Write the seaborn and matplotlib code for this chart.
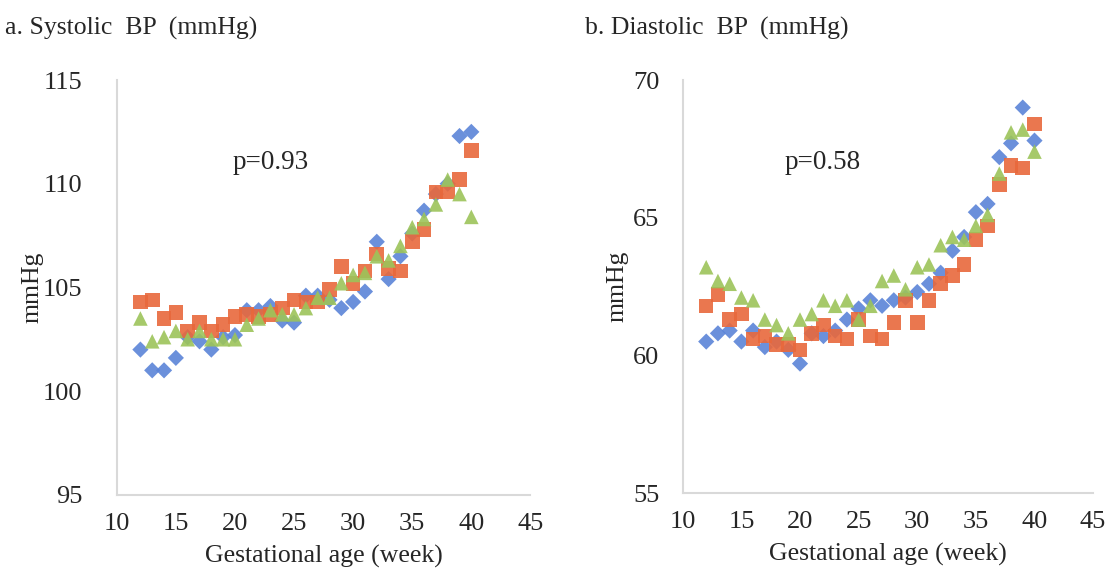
import numpy as np
import pandas as pd
import matplotlib
matplotlib.use("Agg")
import matplotlib.pyplot as plt
import seaborn as sns

sns.set_style("white")
plt.rcParams['font.family'] = ['Liberation Serif', 'DejaVu Serif']

weeks = list(range(12, 41))
groups = ["Group 1", "Group 2", "Group 3"]

# systolic BP per gestational week
sbp_g1 = [102.0, 101.0, 101.0, 101.6, 102.6, 102.4, 102.0, 102.6, 102.7, 103.9,
          103.9, 104.1, 103.4, 103.3, 104.6, 104.6, 104.4, 104.0, 104.3, 104.8,
          107.2, 105.4, 106.5, 107.6, 108.7, 109.5, 110.0, 112.3, 112.5]
sbp_g2 = [104.3, 104.4, 103.5, 103.8, 102.9, 103.3, 102.9, 103.2, 103.6, 103.7,
          103.6, 103.7, 104.0, 104.4, 104.3, 104.3, 104.9, 106.0, 105.2, 105.8,
          106.6, 105.9, 105.8, 107.2, 107.8, 109.6, 109.6, 110.2, 111.6]
sbp_g3 = [103.5, 102.4, 102.6, 102.9, 102.5, 102.9, 102.5, 102.5, 102.5, 103.2,
          103.5, 103.9, 103.7, 103.7, 104.0, 104.5, 104.5, 105.2, 105.6, 105.7,
          106.5, 106.3, 107.0, 107.9, 108.3, 109.0, 110.2, 109.5, 108.4]

# diastolic BP
dbp_g1 = [60.5, 60.8, 60.9, 60.5, 60.9, 60.3, 60.5, 60.2, 59.7, 60.8,
          60.7, 60.9, 61.3, 61.7, 62.0, 61.8, 62.0, 62.1, 62.3, 62.6,
          63.0, 63.8, 64.3, 65.2, 65.5, 67.2, 67.7, 69.0, 67.8]
dbp_g2 = [61.8, 62.2, 61.3, 61.5, 60.6, 60.7, 60.4, 60.4, 60.2, 60.8,
          61.1, 60.7, 60.6, 61.3, 60.7, 60.6, 61.2, 62.0, 61.2, 62.0,
          62.6, 62.9, 63.3, 64.2, 64.7, 66.2, 66.9, 66.8, 68.4]
dbp_g3 = [63.2, 62.7, 62.6, 62.1, 62.0, 61.3, 61.1, 60.8, 61.3, 61.5,
          62.0, 61.8, 62.0, 61.3, 61.8, 62.7, 62.9, 62.4, 63.2, 63.3,
          64.0, 64.3, 64.2, 64.7, 65.1, 66.6, 68.1, 68.2, 67.4]

p_sbp = "p=0.93"
p_dbp = "p=0.58"

palette = {"Group 1": "#5b84d8", "Group 2": "#e8683c", "Group 3": "#9cc45a"}
markers = {"Group 1": "D", "Group 2": "s", "Group 3": "^"}
sizes = {"Group 1": 68, "Group 2": 110, "Group 3": 110}


def long_df(a, b, c):
    rows = []
    for g, vals in zip(groups, [a, b, c]):
        for w, v in zip(weeks, vals):
            rows.append({"week": w, "bp": v, "group": g})
    return pd.DataFrame(rows)


sbp = long_df(sbp_g1, sbp_g2, sbp_g3)
dbp = long_df(dbp_g1, dbp_g2, dbp_g3)

fig = plt.figure(figsize=(11.12, 5.8), dpi=100)
ax1 = fig.add_axes([0.105, 0.147, 0.372, 0.715])
ax2 = fig.add_axes([0.614, 0.150, 0.369, 0.712])

panels = [(ax1, sbp, (95, 115), [95, 100, 105, 110, 115], p_sbp, (23, 111.0), 25),
          (ax2, dbp, (55, 70), [55, 60, 65, 70], p_dbp, (21.9, 67.0), 17)]

for ax, df, ylim, yt, ptxt, ppos, ypad in panels:
    for g in groups:
        sub = df[df["group"] == g]
        sns.scatterplot(data=sub, x="week", y="bp", ax=ax, color=palette[g],
                        marker=markers[g], s=sizes[g], edgecolor="none",
                        linewidth=0, legend=False, alpha=0.9)
    ax.set_xlim(10, 45)
    ax.set_ylim(*ylim)
    ax.set_xticks([10, 15, 20, 25, 30, 35, 40, 45])
    ax.set_yticks(yt)
    ax.tick_params(axis="x", labelsize=19, length=0, pad=13)
    ax.tick_params(axis="y", labelsize=19, length=0, pad=ypad)
    for s in ["top", "right"]:
        ax.spines[s].set_visible(False)
    for s in ["left", "bottom"]:
        ax.spines[s].set_color("#d9d9d9")
        ax.spines[s].set_linewidth(1.5)
    ax.set_xlabel("Gestational age (week)", fontsize=18.5)
    ax.set_ylabel("mmHg", fontsize=18.5)
    ax.xaxis.set_label_coords(0.5, -0.12)
    ax.text(ppos[0], ppos[1], ptxt, fontsize=19.5, ha="center", va="center")

ax1.yaxis.set_label_coords(-0.178, 0.5)
ax2.yaxis.set_label_coords(-0.132, 0.5)

fig.text(5 / 1112, 1 - 28 / 580, "a. Systolic  BP  (mmHg)", fontsize=18.5,
         ha="left", va="center")
fig.text(585 / 1112, 1 - 28 / 580, "b. Diastolic  BP  (mmHg)", fontsize=18.5,
         ha="left", va="center")

fig.savefig("out.png", dpi=100)
